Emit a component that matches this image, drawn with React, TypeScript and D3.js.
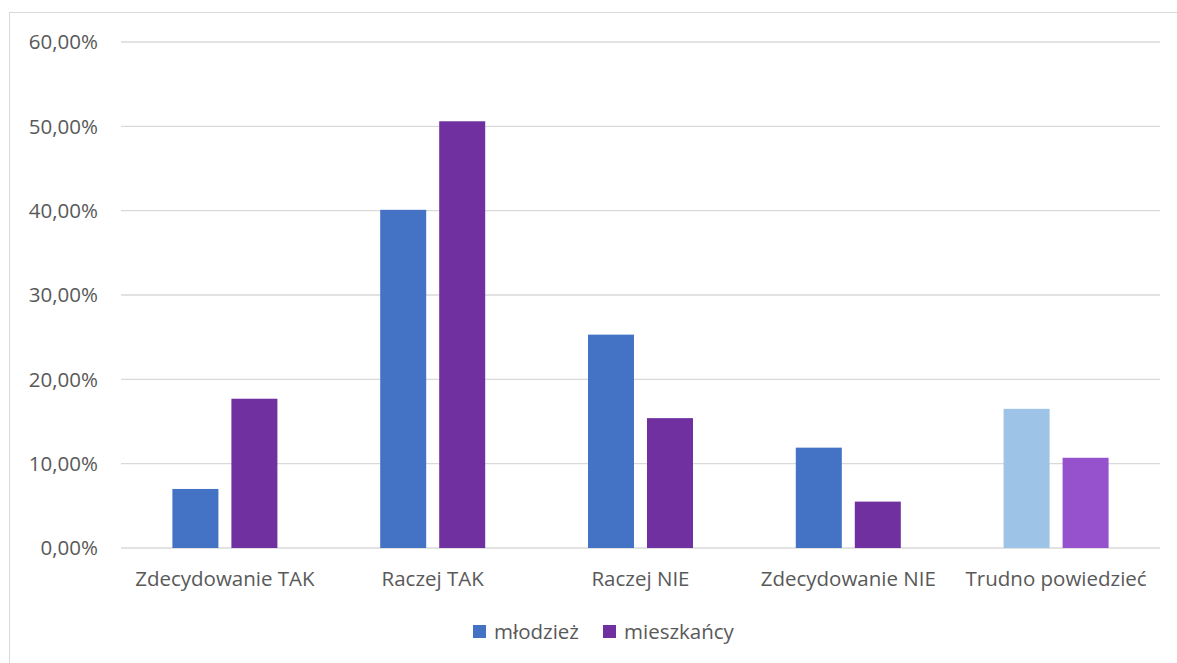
import React from "react";
import * as d3 from "d3";

const categories = ["Zdecydowanie TAK", "Raczej TAK", "Raczej NIE", "Zdecydowanie NIE", "Trudno powiedzieć"];
const seriesNames = ["młodzież", "mieszkańcy"];
const mlodziez = [7.0, 40.1, 25.3, 11.9, 16.5];
const mieszkancy = [17.7, 50.6, 15.4, 5.5, 10.7];
const yTicks = [0, 10, 20, 30, 40, 50, 60];

const colorsMain = ["#4472C4", "#7030A0"];
const colorsLast = ["#9DC3E6", "#9651CC"];

export default function App() {
  const W = 1177, H = 663;
  const left = 121, right = 1160, top = 42, bottom = 548;
  const x = d3.scaleBand<string>().domain(categories).range([left, right]).paddingInner(0).paddingOuter(0);
  const y = d3.scaleLinear().domain([0, 60]).range([bottom, top]);
  const series = [mlodziez, mieszkancy];
  const bw = 46, gap = 13;
  const font = "'Open Sans', sans-serif";
  const fs = 20.5;
  const txt = "#595959";
  const fmt = (v: number) => v.toFixed(2).replace(".", ",") + "%";
  return (
    <svg width={W} height={H} style={{ position: "absolute", left: 0, top: 0 }}>
      <rect x={0} y={0} width={W} height={H} fill="#fff" />
      <rect x={9.5} y={12.5} width={W + 20} height={H + 20} fill="none" stroke="#D9D9D9" />
      {yTicks.map((t) => (
        <g key={t}>
          <line x1={left} x2={right} y1={y(t)} y2={y(t)} stroke="#D9D9D9" strokeWidth={1.3} />
          <text x={98} y={y(t)} dy="0.35em" textAnchor="end" fontFamily={font} fontSize={fs} fill={txt}>{fmt(t)}</text>
        </g>
      ))}
      {categories.map((c, i) => {
        const cx = (x(c) as number) + x.bandwidth() / 2;
        return (
          <g key={c}>
            {series.map((s, j) => {
              const last = i === categories.length - 1;
              const bx = j === 0 ? cx - gap / 2 - bw : cx + gap / 2;
              return (
                <rect key={j} x={bx} y={y(s[i])} width={bw} height={y(0) - y(s[i])}
                  fill={last ? colorsLast[j] : colorsMain[j]} />
              );
            })}
            <text x={cx} y={586} textAnchor="middle" fontFamily={font} fontSize={fs} fill={txt}>{c}</text>
          </g>
        );
      })}
      {seriesNames.map((n, j) => {
        const lx = j === 0 ? 473 : 603;
        return (
          <g key={n}>
            <rect x={lx} y={625} width={13} height={13} fill={colorsMain[j]} />
            <text x={lx + 21} y={632} dy="0.35em" fontFamily={font} fontSize={fs} fill={txt}>{n}</text>
          </g>
        );
      })}
    </svg>
  );
}
